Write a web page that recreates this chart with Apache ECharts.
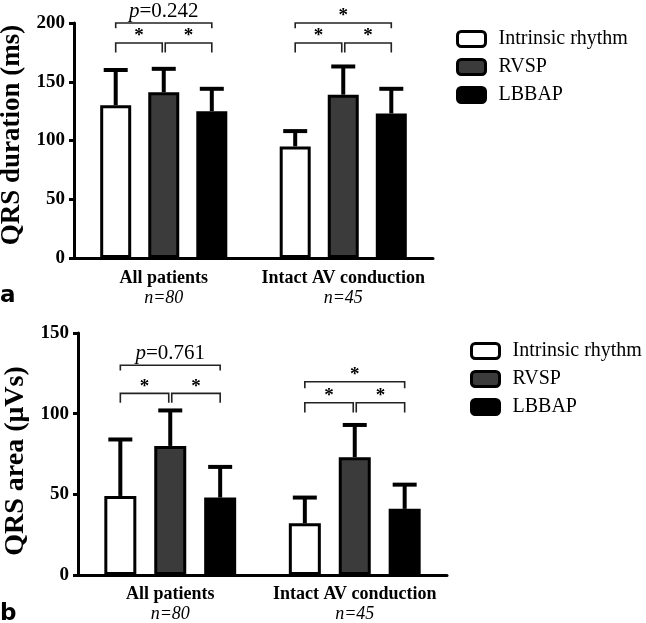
<!DOCTYPE html>
<html><head><meta charset="utf-8">
<script src="https://cdn.jsdelivr.net/npm/echarts@6/dist/echarts.min.js"></script>
<style>html,body{margin:0;padding:0;background:#fff}#c{width:646px;height:623px}</style>
</head><body><div id="c"></div>
<script>
// ---------- data ----------
const categories = ['All patients', 'Intact AV conduction'];
const sampleSizes = ['n=80', 'n=45'];
const seriesNames = ['Intrinsic rhythm', 'RVSP', 'LBBAP'];

// Panel a: QRS duration (ms) – mean and SD
const durIntrinsic = [130, 95];
const durRVSP = [141, 139];
const durLBBAP = [125, 123];
const durIntrinsicSD = [30, 13];
const durRVSPSD = [20, 24];
const durLBBAPSD = [19, 21];
const durTicks = [0, 50, 100, 150, 200];

// Panel b: QRS area (µVs) – mean and SD
const areaIntrinsic = [49, 32];
const areaRVSP = [80, 73];
const areaLBBAP = [48, 41];
const areaIntrinsicSD = [35, 16];
const areaRVSPSD = [22, 20];
const areaLBBAPSD = [19, 15];
const areaTicks = [0, 50, 100, 150];

// significance brackets: [category, fromSeries, toSeries, bracketLevel, legEnd]
const durBrackets = [[0,0,1,183,175],[0,1,2,183,175],[0,0,2,200,195.5],
                     [1,0,1,183,175],[1,1,2,183,175],[1,0,2,200,195.5]];
const durBracketLabels = ['*','*','p=0.242','*','*','*'];
const areaBrackets = [[0,0,1,112.6,106.8],[0,1,2,112.6,106.8],[0,0,2,130,126.7],
                      [1,0,1,106.8,100.8],[1,1,2,106.8,100.8],[1,0,2,119.8,115.7]];
const areaBracketLabels = ['*','*','p=0.761','*','*','*'];

// ---------- layout / style ----------
const SERIF = '"Liberation Serif", "Times New Roman", serif';
const panelLayout = [
  {barWidth: 31, gap: 0.55, cap: 24},
  {barWidth: 32, gap: 0.56, cap: 24}
];
const fills = ['#ffffff', '#3b3b3b', '#000000'];

const chart = echarts.init(document.getElementById('c'), null, {renderer: 'canvas'});

function errRender(panel) {
  return function (params, api) {
    const cat = api.value(0), si = api.value(1), m = api.value(2), sd = api.value(3);
    const base = api.coord([cat, m]);
    const top = api.coord([cat, m + sd]);
    const L = panelLayout[panel];
    const x = base[0] + (si - 1) * L.barWidth * (1 + L.gap);
    const c = L.cap / 2;
    return {type: 'group', children: [
      {type: 'line', shape: {x1: x, y1: base[1], x2: x, y2: top[1]}, style: {stroke: '#000', lineWidth: 4}},
      {type: 'line', shape: {x1: x - c, y1: top[1], x2: x + c, y2: top[1]}, style: {stroke: '#000', lineWidth: 4}}
    ]};
  };
}

function brRender(panel, labels) {
  return function (params, api) {
    const cat = api.value(0), a = api.value(1), b = api.value(2), yl = api.value(3), yg = api.value(4);
    const c = api.coord([cat, yl]);
    const g = api.coord([cat, yg]);
    const L = panelLayout[panel];
    const step = L.barWidth * (1 + L.gap);
    let x1 = c[0] + (a - 1) * step, x2 = c[0] + (b - 1) * step;
    if (b - a === 1) { if (a === 1) x1 += 1.5; else x2 -= 1.5; }
    const label = labels[params.dataIndex];
    const isP = label.indexOf('p=') === 0;
    const txt = isP
      ? {type: 'text', style: {x: (x1 + x2) / 2, y: c[1] - 1, text: '{i|p}{n|' + label.slice(1) + '}',
          align: 'center', verticalAlign: 'bottom', fill: '#000',
          rich: {i: {fontFamily: SERIF, fontStyle: 'italic', fontSize: 21, fill: '#000'},
                 n: {fontFamily: SERIF, fontSize: 21, fill: '#000'}}}}
      : {type: 'text', style: {x: (x1 + x2) / 2, y: c[1] + 3, text: label, align: 'center', verticalAlign: 'bottom',
          fill: '#000', fontFamily: SERIF, fontWeight: 'bold', fontSize: 19}};
    return {type: 'group', children: [
      {type: 'polyline', shape: {points: [[x1, g[1]], [x1, c[1]], [x2, c[1]], [x2, g[1]]]},
       style: {stroke: '#222', lineWidth: 1.6, fill: null}},
      txt
    ]};
  };
}

function makePanel(panel, means, sds, brackets, labels) {
  const out = [];
  means.forEach((arr, si) => {
    out.push({
      name: seriesNames[si], type: 'bar', xAxisIndex: panel, yAxisIndex: panel,
      data: arr, barWidth: panelLayout[panel].barWidth, barGap: (panelLayout[panel].gap * 100) + '%',
      itemStyle: {color: fills[si], borderColor: '#000', borderWidth: 3},
      z: 2
    });
  });
  const errData = [];
  means.forEach((arr, si) => arr.forEach((m, ci) => errData.push([ci, si, m, sds[si][ci]])));
  out.push({type: 'custom', xAxisIndex: panel, yAxisIndex: panel, renderItem: errRender(panel),
            data: errData, z: 1, silent: true});
  out.push({type: 'custom', xAxisIndex: panel, yAxisIndex: panel, renderItem: brRender(panel, labels),
            data: brackets, z: 3, silent: true, clip: false});
  return out;
}

function xAxisFor(idx, margin) {
  return {
    type: 'category', gridIndex: idx, data: categories,
    axisLine: {lineStyle: {color: '#000', width: 3}},
    axisTick: {alignWithLabel: true, length: 6, lineStyle: {color: '#000', width: 3}},
    axisLabel: {
      margin: margin, color: '#000', lineHeight: 20, interval: 0,
      formatter: (v, i) => '{a|' + v + '}\n{b|' + sampleSizes[i] + '}',
      rich: {a: {fontFamily: SERIF, fontWeight: 'bold', fontSize: 18, lineHeight: 20},
             b: {fontFamily: SERIF, fontStyle: 'italic', fontSize: 18, lineHeight: 20}}
    }
  };
}

function yAxisFor(idx, ticks, name, gap, pad, fs) {
  return {
    type: 'value', gridIndex: idx, min: ticks[0], max: ticks[ticks.length - 1], interval: ticks[1] - ticks[0],
    name: name, nameLocation: 'middle', nameGap: gap,
    nameTextStyle: {fontFamily: SERIF, fontWeight: 'bold', fontSize: fs, color: '#000', padding: pad},
    axisLine: {show: true, lineStyle: {color: '#000', width: 3}},
    axisTick: {show: true, length: 5, lineStyle: {color: '#000', width: 3}},
    axisLabel: {fontFamily: SERIF, fontWeight: 'bold', fontSize: 19, color: '#000', margin: 9},
    splitLine: {show: false}
  };
}

function legendFor(left, top) {
  return {
    data: seriesNames, orient: 'vertical', left: left, top: top,
    itemWidth: 28, itemHeight: 15, itemGap: 8, icon: 'roundRect', selectedMode: false,
    itemStyle: {borderColor: '#000', borderWidth: 3},
    textStyle: {fontFamily: SERIF, fontSize: 20, color: '#000', padding: [0, 0, 0, 8]}
  };
}

const option = {
  animation: false,
  backgroundColor: '#fff',
  textStyle: {fontFamily: SERIF},
  grid: [
    {left: 74, right: 213, top: 23, height: 235, outerBoundsMode: 'none', containLabel: false},
    {left: 78, right: 199, top: 333, height: 242, outerBoundsMode: 'none', containLabel: false}
  ],
  xAxis: [xAxisFor(0, 10), xAxisFor(1, 9)],
  yAxis: [yAxisFor(0, durTicks, 'QRS duration (ms)', 44, [0, 0, 0, 11], 27),
          yAxisFor(1, areaTicks, 'QRS area (\u03bcVs)', 46, [0, 14, 0, 0], 28)],
  legend: [legendFor(451, 24), legendFor(465, 336)],
  series: [].concat(
    makePanel(0, [durIntrinsic, durRVSP, durLBBAP], [durIntrinsicSD, durRVSPSD, durLBBAPSD], durBrackets, durBracketLabels),
    makePanel(1, [areaIntrinsic, areaRVSP, areaLBBAP], [areaIntrinsicSD, areaRVSPSD, areaLBBAPSD], areaBrackets, areaBracketLabels)
  ),
  graphic: [
    {type: 'text', left: 0, top: 285, style: {text: 'a', fontFamily: 'DejaVu Sans', fontWeight: 'bold', fontSize: 23, fill: '#000'}},
    {type: 'text', left: 0, top: 603, style: {text: 'b', fontFamily: 'DejaVu Sans', fontWeight: 'bold', fontSize: 23, fill: '#000'}}
  ]
};
chart.setOption(option);
</script>
</body></html>
